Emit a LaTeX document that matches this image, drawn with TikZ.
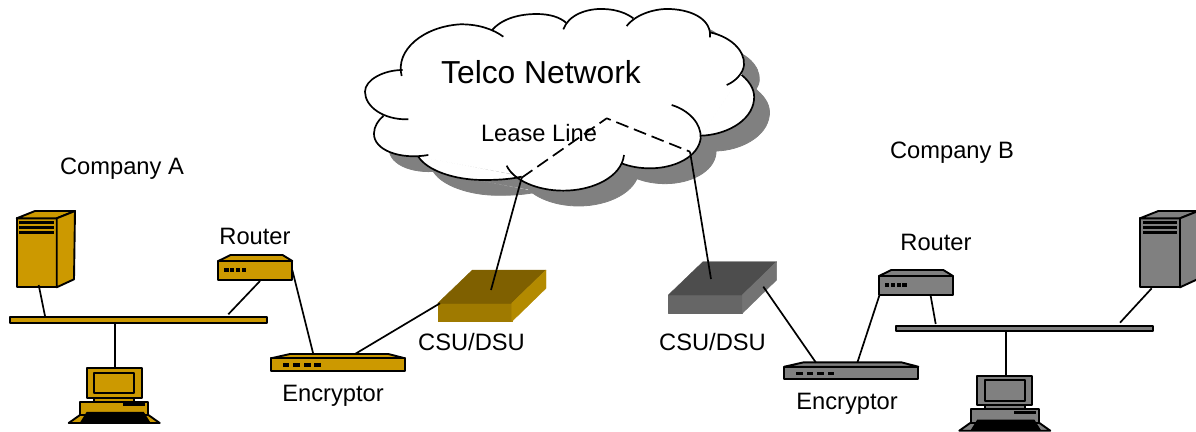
\documentclass[tikz,border=0pt]{standalone}
\usepackage{fontspec}
\setmainfont{Liberation Sans}
\definecolor{gold}{HTML}{CC9900}
\definecolor{greyd}{HTML}{808080}
\definecolor{csuATop}{HTML}{7F6000}
\definecolor{csuAFront}{HTML}{9F7A00}
\definecolor{csuASide}{HTML}{B38A00}
\definecolor{csuBTop}{HTML}{4D4D4D}
\definecolor{csuBFront}{HTML}{666666}
\definecolor{csuBSide}{HTML}{737373}
\newcommand{\arcK}{(155,228) .. controls (135,150) and (220,80) .. (330,73) .. controls (385,72) and (430,88) .. (460,110)}
\newcommand{\arcJ}{(425,92) .. controls (455,55) and (510,42) .. (560,42) .. controls (600,42) and (630,52) .. (648,68)}
\newcommand{\arcI}{(640,88) .. controls (655,45) and (710,25) .. (760,27) .. controls (800,28) and (830,40) .. (850,55)}
\newcommand{\arcH}{(830,78) .. controls (860,40) and (920,25) .. (960,27) .. controls (1030,30) and (1085,60) .. (1080,112)}
\newcommand{\arcG}{(1080,97) .. controls (1140,110) and (1185,150) .. (1182,195) .. controls (1180,220) and (1155,245) .. (1130,255)}
\newcommand{\arcF}{(1175,225) .. controls (1205,250) and (1215,275) .. (1212,300) .. controls (1205,365) and (1125,405) .. (1053,407)}
\newcommand{\arcE}{(965,315) .. controls (1015,330) and (1055,370) .. (1052,415) .. controls (1045,470) and (975,505) .. (900,505) .. controls (870,505) and (840,500) .. (815,490)}
\newcommand{\arcD}{(822,465) .. controls (815,530) and (730,572) .. (640,572) .. controls (560,572) and (490,540) .. (470,497)}
\newcommand{\arcC}{(515,530) .. controls (480,538) and (440,540) .. (400,540) .. controls (310,540) and (230,510) .. (205,470)}
\newcommand{\arcB}{(235,465) .. controls (150,480) and (70,450) .. (72,400) .. controls (72,380) and (85,360) .. (100,348)}
\newcommand{\arcA}{(175,358) .. controls (100,360) and (45,320) .. (45,275) .. controls (45,240) and (100,210) .. (158,210)}
\newcommand{\cloudfill}[1]{%
  \filldraw[#1,line width=.8pt] (155,212)--(100,348)--(205,470)--(480,520)--(820,490)--(1052,408)--(1175,225)--(1080,100)--(840,65)--(645,75)--(435,95)--cycle;
  \filldraw[#1,line width=.8pt] \arcK -- cycle; \filldraw[#1,line width=.8pt] \arcJ -- cycle; \filldraw[#1,line width=.8pt] \arcI -- cycle;
  \filldraw[#1,line width=.8pt] \arcH -- cycle; \filldraw[#1,line width=.8pt] \arcG -- cycle; \filldraw[#1,line width=.8pt] \arcF -- cycle;
  \filldraw[#1,line width=.8pt] \arcE -- cycle; \filldraw[#1,line width=.8pt] \arcD -- cycle; \filldraw[#1,line width=.8pt] \arcC -- cycle;
  \filldraw[#1,line width=.8pt] \arcB -- cycle; \filldraw[#1,line width=.8pt] \arcA -- cycle;}
\tikzset{
  every picture/.append style={line join=round},
  wire/.style={line width=1.7pt,black},
  edge box/.style={line width=1.9pt,draw=black},
  cloud line/.style={line width=1.7pt,black},
  label text/.style={anchor=base,inner sep=0pt,font=\fontsize{23.7}{28}\selectfont},
  bus/.style={draw=black,line width=1.9pt,fill=#1,anchor=north west,inner sep=0pt},
  server/.pic={
    \filldraw[edge box,fill=#1] (0,0) rectangle (40,69);
    \filldraw[edge box,fill=#1] (0,0)--(18.3,-7.3)--(58.3,-7.3)--(40,0)--cycle;
    \filldraw[edge box,fill=#1] (40,0)--(58.3,-7.3)--(57.3,61)--(40,69)--cycle;
    \fill[black] (2.7,2.7) rectangle (37,5.7);
    \fill[black] (2.7,7.7) rectangle (37,10.7);
    \fill[black] (2.7,12.7) rectangle (37,15.7);
  },
  computer/.pic={
    \filldraw[edge box,fill=#1] (7.7,29.3) rectangle (47.7,33.3);
    \filldraw[edge box,fill=#1] (0,0) rectangle (55,29.3);
    \draw[edge box] (7.7,4.3) rectangle (47.7,25);
    \filldraw[edge box,fill=#1] (-18,54.7)--(-6.7,46.7)--(61.7,46.7)--(73,54.7)--cycle;
    \filldraw[edge box,fill=#1] (-6.7,33.3) rectangle (61.7,46.7);
    \fill[black] (36.7,35) rectangle (58.3,38);
    \fill[black] (-7,54.7)--(0,43.5)--(57,43.5)--(64,54.7)--cycle;
  },
  router/.pic={
    \filldraw[edge box,fill=#1] (0,0)--(12.3,-6)--(64.3,-6)--(74,0)--cycle;
    \filldraw[edge box,fill=#1] (0,0) rectangle (74,19.3);
    \foreach \x in {6,11.7,17.5,23.3}{\fill[black] (\x,7) rectangle ++(4.2,4.2);}
  },
  encryptor/.pic={
    \filldraw[edge box,fill=#1] (0,0)--(19,-4.3)--(117.3,-4.3)--(134,0)--cycle;
    \filldraw[edge box,fill=#1] (0,0) rectangle (134,12.7);
    \foreach \x in {11.7,22.3,33,43.3}{\fill[black] (\x,4.8) rectangle ++(6.7,3.4);}
  },
  csu/.pic={
    \filldraw[draw=csu#1Front,fill=csu#1Front] (0,0) rectangle (74,18.3);
    \filldraw[draw=csu#1Top,fill=csu#1Top] (0,0)--(34.7,-33.3)--(108.3,-33.3)--(74,0)--cycle;
    \filldraw[draw=csu#1Side,fill=csu#1Side] (74,0)--(108.3,-33.3)--(108.3,-15)--(74,18.3)--cycle;
  },
}
\begin{document}
\begin{tikzpicture}[x=1pt,y=-1pt]
\useasboundingbox (0,0) rectangle (1196,431);
% cloud
\begin{scope}[shift={(350,0)},x=0.33333pt,y=-0.33333pt]
  \begin{scope}[shift={(46,46)}]\cloudfill{greyd}\end{scope}
  \cloudfill{white}
  \draw[cloud line] \arcK; \draw[cloud line] \arcJ;
  \draw[cloud line] \arcI; \draw[cloud line] \arcH;
  \draw[cloud line] \arcG; \draw[cloud line] \arcF;
  \draw[cloud line] \arcE; \draw[cloud line] \arcD;
  \draw[cloud line] \arcC; \draw[cloud line] \arcB;
  \draw[cloud line] \arcA;
\end{scope}
% devices
\pic at (16.7,218.3) {server=gold};
\pic at (1140,218.3) {server=greyd};
\pic at (86.7,368.3) {computer=gold};
\pic at (977.3,376) {computer=greyd};
\pic at (218.3,261) {router=gold};
\pic at (879,276) {router=greyd};
\pic at (271,358.3) {encryptor=gold};
\pic at (784.3,366.7) {encryptor=greyd};
\pic at (437.7,303.3) {csu=A};
\pic at (668.3,295) {csu=B};
\node[bus=gold,minimum width=256.7pt,minimum height=5.4pt] (busA) at (9.3,316.3) {};
\node[bus=greyd,minimum width=256.7pt,minimum height=5pt] (busB) at (895,325) {};
% connection points
\coordinate (srvAp) at (38.7,285);
\coordinate (busAs) at (45,316);
\coordinate (busAr) at (228.3,314.3);
\coordinate (rtrAb) at (260,281);
\coordinate (busAc) at (115,322);
\coordinate (cmpAt) at (115,368);
\coordinate (rtrAe) at (292.3,270);
\coordinate (encAr) at (313.3,354);
\coordinate (encAc) at (355,354);
\coordinate (csuAe) at (440,303.3);
\coordinate (csuAt) at (491,290);
\coordinate (leaseL) at (521.7,177.7);
\coordinate (apex) at (606.7,118.3);
\coordinate (leaseR) at (690,151.7);
\coordinate (csuBt) at (711,279);
\coordinate (csuBe) at (763.3,286.7);
\coordinate (encBc) at (816,362.7);
\coordinate (encBr) at (857.3,362.7);
\coordinate (rtrBe) at (879.3,295.7);
\coordinate (rtrBb) at (930.7,296);
\coordinate (busBr) at (935.7,324);
\coordinate (busBs) at (1120,322.7);
\coordinate (srvBp) at (1151.7,288.3);
\coordinate (busBc) at (1005.7,330);
\coordinate (cmpBt) at (1005.7,376);
% connectors
\draw[wire] (srvAp)--(busAs);
\draw[wire] (busAr)--(rtrAb);
\draw[wire] (busAc)--(cmpAt);
\draw[wire] (rtrAe)--(encAr);
\draw[wire] (encAc)--(csuAe);
\draw[wire] (csuAt)--(leaseL);
\draw[wire,dash pattern=on 13pt off 6pt] (leaseL)--(apex)--(leaseR);
\draw[wire] (leaseR)--(csuBt);
\draw[wire] (csuBe)--(encBc);
\draw[wire] (encBr)--(rtrBe);
\draw[wire] (rtrBb)--(busBr);
\draw[wire] (busBs)--(srvBp);
\draw[wire] (busBc)--(cmpBt);
% labels
\node[label text,font=\fontsize{31.8}{38}\selectfont] (telco) at (541,83) {Telco Network};
\node[label text] (lease) at (539,141.7) {Lease Line};
\node[label text] (compA) at (122,174) {Company A};
\node[label text] (compB) at (952,158) {Company B};
\node[label text] (routerA) at (255,244.3) {Router};
\node[label text] (routerB) at (936,250) {Router};
\node[label text] (encA) at (333,401.7) {Encryptor};
\node[label text] (encB) at (847,409.7) {Encryptor};
\node[label text] (csuLabelA) at (471.5,350.7) {CSU/DSU};
\node[label text] (csuLabelB) at (712.5,350.7) {CSU/DSU};
\end{tikzpicture}
\end{document}
